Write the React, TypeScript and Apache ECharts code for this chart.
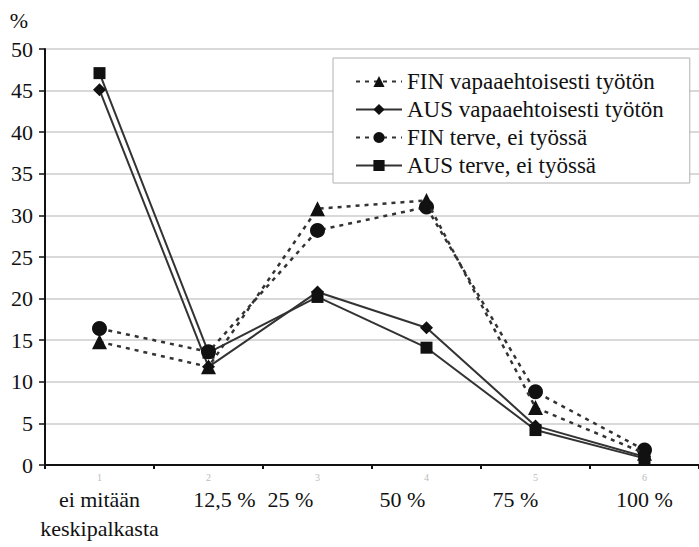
import React, { useEffect, useRef } from "react";
import * as echarts from "echarts";

const tickNumbers = ["1", "2", "3", "4", "5", "6"];
const categories = ["ei mitään\nkeskipalkasta", "12,5 %", "25 %", "50 %", "75 %", "100 %"];
const labelShift = [0, 16, -27, -24, -20, 0];

const finVoluntary = [14.8, 11.8, 30.8, 31.8, 6.9, 1.4];
const ausVoluntary = [45.1, 11.8, 20.8, 16.5, 4.7, 1.0];
const finHealthy = [16.4, 13.6, 28.2, 31.0, 8.8, 1.8];
const ausHealthy = [47.1, 13.5, 20.2, 14.1, 4.2, 0.8];

const seriesNames = [
  "FIN vapaaehtoisesti työtön",
  "AUS vapaaehtoisesti työtön",
  "FIN terve, ei työssä",
  "AUS terve, ei työssä",
];

const FONT = "Liberation Serif";

export default function App() {
  const ref = useRef<HTMLDivElement>(null);
  useEffect(() => {
    if (!ref.current) return;
    const chart = echarts.init(ref.current, null, { renderer: "svg" });
    const rich: Record<string, any> = {};
    labelShift.forEach((d, i) => {
      rich["s" + i] = {
        fontFamily: FONT,
        fontSize: 22,
        color: "#111",
        lineHeight: 29,
        padding: d >= 0 ? [0, 0, 0, 2 * d] : [0, -2 * d, 0, 0],
      };
    });
    const dotted = { type: [4, 5] as any, width: 2.5, color: "#333" };
    const solid = { type: "solid" as any, width: 2, color: "#333" };
    chart.setOption({
      animation: false,
      backgroundColor: "#fff",
      textStyle: { fontFamily: FONT },
      grid: { left: 45, top: 49, width: 657, height: 416 },
      legend: {
        orient: "vertical",
        left: 333,
        top: 58,
        padding: [12, 26, 6, 22],
        itemGap: 5,
        itemWidth: 46,
        itemHeight: 14,
        backgroundColor: "#fff",
        borderColor: "#b0b0b0",
        borderWidth: 1,
        data: seriesNames,
        textStyle: { fontFamily: FONT, fontSize: 23, color: "#111" },
      },
      xAxis: [
        {
          type: "category",
          data: tickNumbers,
          boundaryGap: true,
          axisLine: { show: true, lineStyle: { color: "#111", width: 2 } },
          axisTick: { show: true, length: 4, lineStyle: { color: "#111", width: 2 } },
          axisLabel: { interval: 0, fontSize: 10, color: "#bbb", margin: 7, fontFamily: FONT },
          splitLine: { show: false },
        },
        {
          type: "category",
          data: categories,
          position: "bottom",
          boundaryGap: true,
          axisLine: { show: false },
          axisTick: { show: false },
          axisLabel: {
            interval: 0,
            margin: 20,
            fontSize: 22,
            lineHeight: 29,
            color: "#111",
            formatter: (v: string, i: number) =>
              v
                .split("\n")
                .map((t) => `{s${i}|${t}}`)
                .join("\n"),
            rich,
          },
        },
      ],
      yAxis: {
        type: "value",
        min: 0,
        max: 50,
        interval: 5,
        name: "%",
        nameLocation: "end",
        nameGap: 29,
        nameTextStyle: {
          fontFamily: FONT,
          fontSize: 22,
          color: "#111",
          align: "right",
          verticalAlign: "middle",
          padding: [0, 17, 0, 0],
        },
        axisLine: { show: true, lineStyle: { color: "#111", width: 2 } },
        axisTick: { show: true, length: 6, lineStyle: { color: "#111", width: 1.5 } },
        axisLabel: { fontFamily: FONT, fontSize: 22, color: "#111", margin: 12 },
        splitLine: { show: true, lineStyle: { color: "#cdcdcd", width: 1.5 } },
      },
      series: [
        {
          name: seriesNames[0],
          type: "line",
          data: finVoluntary,
          symbol: "triangle",
          symbolSize: 15,
          itemStyle: { color: "#111" },
          lineStyle: dotted,
          z: 3,
        },
        {
          name: seriesNames[1],
          type: "line",
          data: ausVoluntary,
          symbol: "diamond",
          symbolSize: 13,
          itemStyle: { color: "#111" },
          lineStyle: solid,
          z: 2,
        },
        {
          name: seriesNames[2],
          type: "line",
          data: finHealthy,
          symbol: "circle",
          symbolSize: 15,
          itemStyle: { color: "#111" },
          lineStyle: dotted,
          z: 2,
        },
        {
          name: seriesNames[3],
          type: "line",
          data: ausHealthy,
          symbol: "rect",
          symbolSize: 12,
          itemStyle: { color: "#111" },
          lineStyle: solid,
          z: 2,
        },
      ],
    });
    return () => chart.dispose();
  }, []);
  return (
    <div
      ref={ref}
      style={{ position: "fixed", left: 0, top: 0, width: 699, height: 547 }}
    />
  );
}
